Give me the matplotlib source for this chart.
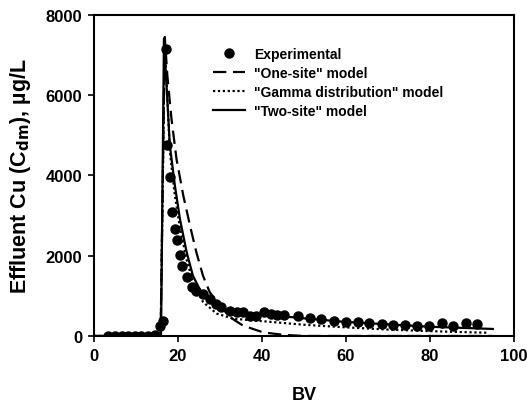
import matplotlib
matplotlib.use('Agg')
import matplotlib.pyplot as plt

plt.rcParams['font.family'] = ['Liberation Sans', 'DejaVu Sans']
plt.rcParams['font.weight'] = 'bold'
plt.rcParams['mathtext.default'] = 'bf'

# experimental data (BV, effluent Cu in ug/L)
exp_bv = [3.4, 5.0, 6.6, 8.2, 9.8, 11.3, 12.9, 14.5, 15.7, 16.5,
          17.1, 17.5, 18.1, 18.7, 19.3, 19.8, 20.5, 21.1, 22.1, 23.3,
          24.4, 25.9, 27.6, 29.2, 30.4, 32.4, 34.0, 35.5, 37.1, 38.7,
          40.5, 42.1, 43.7, 45.3, 48.6, 51.4, 54.2, 57.1, 60.0, 62.8,
          65.5, 68.5, 71.3, 74.2, 77.0, 79.8, 82.8, 85.6, 88.5, 91.3]
exp_c = [0, 0, 0, 0, 0, 0, 0, 20, 250, 380,
         7150, 4750, 3960, 3090, 2670, 2380, 2020, 1750, 1460, 1210,
         1130, 1050, 920, 800, 715, 630, 590, 590, 510, 510,
         590, 550, 530, 530, 505, 440, 425, 385, 360, 340,
         325, 300, 275, 275, 260, 260, 315, 260, 315, 300]

# "One-site" model (dashed)
one_bv = [0, 15.9, 16.9, 17.5, 18.5, 19.7, 21.3, 22.9, 24.4, 26.0, 27.6,
          30.0, 32.4, 35.5, 40.3, 45.0, 50.0, 95.0]
one_c = [0, 0, 7450, 6500, 5400, 4400, 3500, 2750, 2090, 1500, 1090,
         760, 470, 260, 90, 30, 0, 0]

# "Gamma distribution" model (dotted)
gam_bv = [0, 15.9, 16.9, 18.1, 19.3, 20.5, 22.1, 23.6, 26.0, 29.2, 33.2,
          40.0, 50.0, 60.0, 70.0, 80.0, 94.0]
gam_c = [0, 0, 7350, 4600, 3500, 2700, 1900, 1350, 850, 560, 430,
         370, 280, 215, 160, 120, 80]

# "Two-site" model (solid)
two_bv = [0, 16.0, 16.7, 18.1, 19.3, 20.5, 22.1, 23.6, 26.0, 29.2, 33.2,
          40.0, 50.0, 60.0, 70.0, 80.0, 95.0]
two_c = [0, 0, 7400, 4750, 3750, 2920, 2090, 1500, 1000, 720, 590,
         540, 440, 350, 290, 230, 175]

fig = plt.figure(figsize=(5.27, 4.06), dpi=100)
ax = fig.add_axes([0.178, 0.170, 0.797, 0.791])

ax.plot(exp_bv, exp_c, 'o', color='black', markersize=6.5, label='Experimental', zorder=3)
ax.plot(one_bv, one_c, color='black', linestyle=(0, (6, 3)), linewidth=1.6,
        label='"One-site" model')
ax.plot(gam_bv, gam_c, color='black', linestyle=(0, (1, 1.2)), linewidth=1.6,
        label='"Gamma distribution" model')
ax.plot(two_bv, two_c, color='black', linestyle='-', linewidth=1.6,
        label='"Two-site" model')

ax.set_xlim(0, 100)
ax.set_ylim(0, 8000)
ax.set_xticks([0, 20, 40, 60, 80, 100])
ax.set_yticks([0, 2000, 4000, 6000, 8000])
ax.tick_params(direction='out', length=4.3, width=1.2, labelsize=12, pad=4)
for lab in ax.get_xticklabels() + ax.get_yticklabels():
    lab.set_fontweight('bold')
for sp in ax.spines.values():
    sp.set_linewidth(1.5)

ax.set_xlabel('BV', fontsize=13, fontweight='bold', labelpad=17)
ax.set_ylabel(r'Effluent Cu (C$_{\mathbf{dm}}$), µg/L', fontsize=15.5,
              fontweight='bold', labelpad=9)

leg = ax.legend(loc='upper left', bbox_to_anchor=(0.283, 0.90), frameon=False,
                fontsize=10, handlelength=2.3, handletextpad=0.7,
                labelspacing=0.35, borderaxespad=0, borderpad=0)
for t in leg.get_texts():
    t.set_fontweight('bold')

fig.savefig('out.png', dpi=100)
